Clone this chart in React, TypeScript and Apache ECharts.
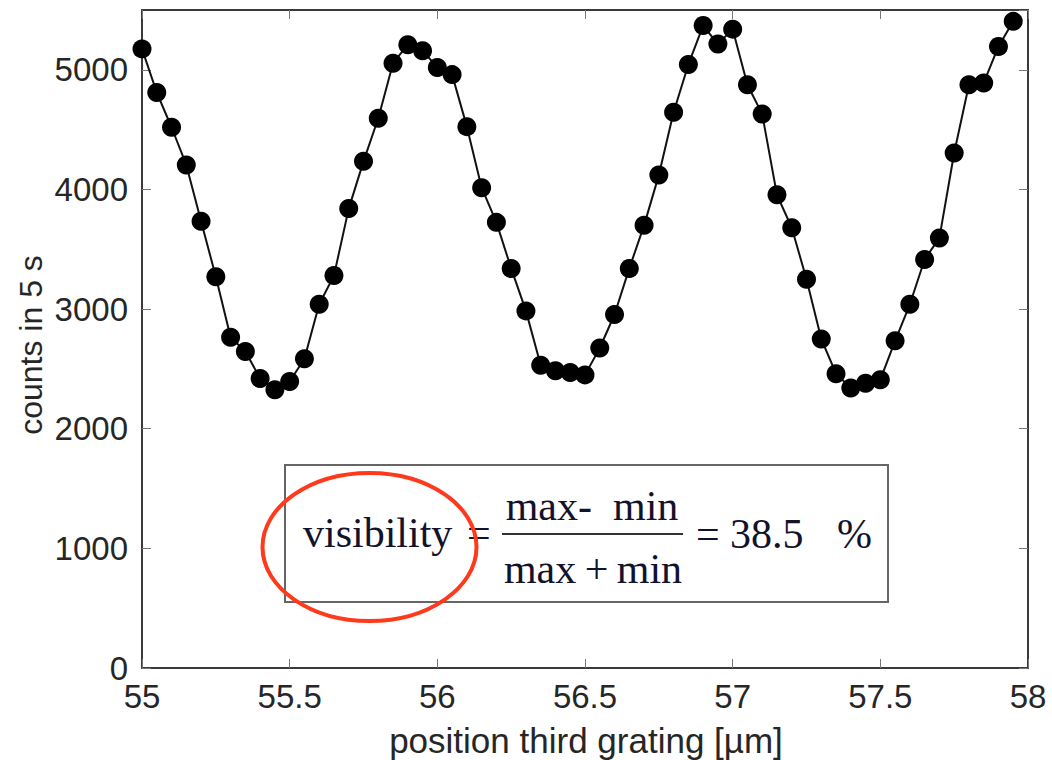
import React, { useEffect, useRef } from "react";
import * as echarts from "echarts";

const positions = [
  55.0, 55.05, 55.1, 55.15, 55.2, 55.25, 55.3, 55.35, 55.4, 55.45,
  55.5, 55.55, 55.6, 55.65, 55.7, 55.75, 55.8, 55.85, 55.9, 55.95,
  56.0, 56.05, 56.1, 56.15, 56.2, 56.25, 56.3, 56.35, 56.4, 56.45,
  56.5, 56.55, 56.6, 56.65, 56.7, 56.75, 56.8, 56.85, 56.9, 56.95,
  57.0, 57.05, 57.1, 57.15, 57.2, 57.25, 57.3, 57.35, 57.4, 57.45,
  57.5, 57.55, 57.6, 57.65, 57.7, 57.75, 57.8, 57.85, 57.9, 57.95,
];

const counts = [
  5175, 4810, 4520, 4205, 3735, 3270, 2765, 2645, 2420, 2325,
  2395, 2585, 3040, 3280, 3840, 4235, 4595, 5055, 5210, 5160,
  5020, 4960, 4525, 4015, 3725, 3340, 2985, 2530, 2485, 2470,
  2450, 2675, 2955, 3340, 3700, 4120, 4645, 5045, 5370, 5215,
  5340, 4875, 4630, 3955, 3680, 3250, 2750, 2460, 2340, 2380,
  2410, 2735, 3040, 3415, 3595, 4305, 4875, 4890, 5195, 5405,
];

const xTitle = "position third grating [µm]";
const yTitle = "counts in 5 s";

const sans = '"Liberation Sans", Arial, Helvetica, sans-serif';
const serif = '"Liberation Serif", "Times New Roman", serif';
const textColor = "#262626";
const formulaColor = "#12122a";

export default function App() {
  const ref = useRef<HTMLDivElement>(null);

  useEffect(() => {
    if (!ref.current) return;
    const chart = echarts.init(ref.current, null, { renderer: "svg" });
    const data = positions.map((p, i) => [p, counts[i]]);

    const axisLine = { show: true, onZero: false, lineStyle: { color: "#3a3a3a", width: 2 } };
    const axisTick = { show: true, inside: true, length: 9, lineStyle: { color: "#777", width: 1 } };
    const plain = (v: number) => String(v);

    chart.setOption({
      animation: false,
      backgroundColor: "#fff",
      grid: { left: 142, right: 24, top: 10, bottom: 92 },
      xAxis: [
        {
          type: "value",
          min: 55,
          max: 58,
          interval: 0.5,
          position: "bottom",
          axisLine,
          axisTick,
          splitLine: { show: false },
          axisLabel: { color: textColor, fontFamily: sans, fontSize: 33, margin: 12, formatter: plain },
        },
        {
          type: "value",
          min: 55,
          max: 58,
          interval: 0.5,
          position: "top",
          axisLine,
          axisTick,
          splitLine: { show: false },
          axisLabel: { show: false },
        },
      ],
      yAxis: [
        {
          type: "value",
          min: 0,
          max: 5500,
          interval: 1000,
          position: "left",
          axisLine,
          axisTick,
          splitLine: { show: false },
          axisLabel: { color: textColor, fontFamily: sans, fontSize: 33, margin: 14, showMaxLabel: false, formatter: plain },
        },
        {
          type: "value",
          min: 0,
          max: 5500,
          interval: 1000,
          position: "right",
          axisLine,
          axisTick,
          splitLine: { show: false },
          axisLabel: { show: false },
        },
      ],
      series: [
        {
          type: "line",
          xAxisIndex: 0,
          yAxisIndex: 0,
          data,
          symbol: "circle",
          symbolSize: 19,
          itemStyle: { color: "#000" },
          lineStyle: { color: "#111", width: 2 },
          z: 3,
        },
      ],
      graphic: [
        {
          type: "text",
          x: 586,
          y: 740,
          style: { text: xTitle, fill: textColor, font: `35px ${sans}`, align: "center", verticalAlign: "middle" },
        },
        {
          type: "text",
          x: 31,
          y: 345,
          rotation: Math.PI / 2,
          style: { text: yTitle, fill: textColor, font: `32px ${sans}`, align: "center", verticalAlign: "middle" },
        },
        {
          type: "rect",
          shape: { x: 285, y: 465, width: 603, height: 137 },
          style: { fill: "#fff", stroke: "#666", lineWidth: 2 },
          z: 10,
        },
        {
          type: "text",
          x: 303,
          y: 533,
          z: 11,
          style: { text: "visibility", fill: formulaColor, font: `42px ${serif}`, align: "left", verticalAlign: "middle" },
        },
        {
          type: "text",
          x: 467,
          y: 533,
          z: 11,
          style: { text: "=", fill: formulaColor, font: `42px ${serif}`, align: "left", verticalAlign: "middle" },
        },
        {
          type: "text",
          x: 592,
          y: 506,
          z: 11,
          style: { text: "max-  min", fill: formulaColor, font: `42px ${serif}`, align: "center", verticalAlign: "middle" },
        },
        {
          type: "line",
          shape: { x1: 502, y1: 534, x2: 683, y2: 534 },
          style: { stroke: "#333", lineWidth: 2 },
          z: 11,
        },
        {
          type: "text",
          x: 593,
          y: 569,
          z: 11,
          style: { text: "max\u2009+\u2009min", fill: formulaColor, font: `42px ${serif}`, align: "center", verticalAlign: "middle" },
        },
        {
          type: "text",
          x: 696,
          y: 534,
          z: 11,
          style: { text: "=", fill: formulaColor, font: `42px ${serif}`, align: "left", verticalAlign: "middle" },
        },
        {
          type: "text",
          x: 730,
          y: 534,
          z: 11,
          style: { text: "38.5", fill: formulaColor, font: `42px ${serif}`, align: "left", verticalAlign: "middle" },
        },
        {
          type: "text",
          x: 837,
          y: 534,
          z: 11,
          style: { text: "%", fill: formulaColor, font: `42px ${serif}`, align: "left", verticalAlign: "middle" },
        },
        {
          type: "ellipse",
          shape: { cx: 369.5, cy: 547, rx: 107, ry: 74 },
          style: { fill: "none", stroke: "#ff3a1c", lineWidth: 4 },
          z: 12,
        },
      ],
    });

    return () => chart.dispose();
  }, []);

  return (
    <div
      ref={ref}
      style={{ position: "absolute", left: 0, top: 0, width: 1052, height: 760 }}
    />
  );
}
